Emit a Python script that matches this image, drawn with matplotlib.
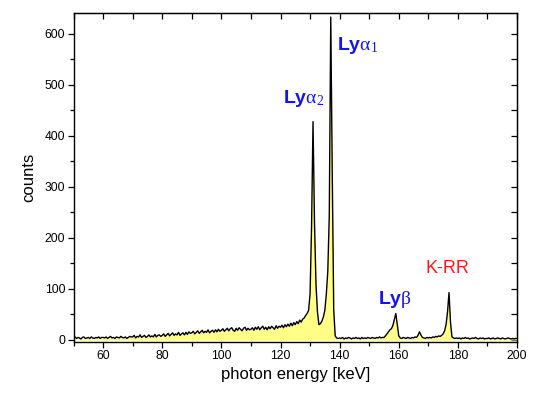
import numpy as np
import matplotlib
matplotlib.use("Agg")
import matplotlib.pyplot as plt
from matplotlib.ticker import MultipleLocator

plt.rcParams['font.family'] = ['Liberation Sans', 'DejaVu Sans']
plt.rcParams['mathtext.fontset'] = 'custom'
plt.rcParams['mathtext.rm'] = 'Liberation Serif'
plt.rcParams['mathtext.bf'] = 'Liberation Sans:bold'
plt.rcParams['mathtext.it'] = 'Liberation Serif:italic'

# spectrum, 0.5 keV channels from 50 to 200 keV
energy_start = 50.0
energy_step = 0.5
counts = [
    4, 6, 3, 5, 4, 2, 5, 6, 3, 4, 5, 3, 6, 4, 3, 5, 4, 6, 3, 5,            # 50
    5, 4, 6, 3, 5, 7, 4, 5, 3, 6, 5, 4, 7, 5, 4, 6, 3, 5, 7, 6,            # 60
    6, 9, 4, 7, 6, 10, 5, 7, 9, 5, 7, 10, 6, 8, 6, 11, 6, 9, 10, 7,        # 70
    9, 12, 7, 10, 13, 8, 11, 14, 9, 12, 10, 15, 9, 12, 14, 10, 15, 11, 16, 13,  # 80
    14, 17, 12, 15, 18, 13, 16, 19, 14, 17, 15, 20, 14, 17, 19, 15, 20, 16, 21, 17,  # 90
    19, 22, 17, 20, 23, 18, 22, 24, 19, 17, 23, 19, 24, 21, 18, 23, 25, 19, 23, 20,  # 100
    21, 24, 19, 25, 21, 26, 20, 24, 27, 21, 25, 20, 26, 22, 27, 24, 21, 28, 23, 27,  # 110
    25, 29, 24, 30, 26, 31, 27, 33, 28, 34, 30, 36, 32, 39, 35, 41, 43, 48, 52, 58,  # 120
    90, 220, 428, 230, 110, 55, 30, 32, 37, 45, 58, 90, 135, 245, 633, 330, 60, 8, 4, 3,  # 130
    4, 3, 5, 2, 4, 3, 5, 4, 2, 4, 3, 5, 3, 4, 2, 5, 3, 4, 3, 5,            # 140
    4, 3, 5, 4, 3, 5, 4, 6, 4, 5, 5, 8, 12, 16, 20, 22, 28, 40, 52, 30,    # 150
    8, 4, 3, 5, 4, 3, 5, 4, 3, 5, 4, 6, 5, 9, 16, 10, 5, 4, 3, 5,          # 160
    4, 5, 4, 6, 5, 7, 6, 8, 7, 9, 12, 18, 30, 55, 93, 35, 6, 4, 3, 4,      # 170
    3, 4, 2, 4, 3, 5, 3, 4, 2, 3, 4, 3, 5, 3, 2, 4, 3, 4, 2, 3,            # 180
    3, 4, 2, 3, 4, 2, 3, 4, 3, 2, 4, 3, 2, 3, 4, 3, 2, 3, 2, 3, 3,         # 190-200
]
energy = energy_start + energy_step * np.arange(len(counts))

# peak labels
labels = [r'$\mathbf{Ly}\mathrm{\alpha}_{\mathrm{1}}$', r'$\mathbf{Ly}\mathrm{\alpha}_{\mathrm{2}}$',
          r'$\mathbf{Ly}\mathrm{\beta}$', 'K-RR']
label_x = [139.0, 120.8, 152.9, 169.1]
label_y = [578, 474, 80, 141]
label_colors = ['#1414f0', '#1414f0', '#1414f0', '#ff1a1a']

fig = plt.figure(figsize=(5.33, 3.93), dpi=100)
ax = fig.add_axes([0.138, 0.131, 0.832, 0.836])

ax.fill_between(energy, counts, 0, color='#ffff85', lw=0)
ax.plot(energy, counts, color='black', lw=1.0)

for t, x, y, c in zip(labels, label_x, label_y, label_colors):
    ax.text(x, y, t, color=c, fontsize=14 if t != 'K-RR' else 13, va='center', ha='left')

ax.set_xlim(50, 200)
ax.set_ylim(-3, 641)
ax.xaxis.set_major_locator(MultipleLocator(20))
ax.xaxis.set_minor_locator(MultipleLocator(10))
ax.yaxis.set_major_locator(MultipleLocator(100))
ax.yaxis.set_minor_locator(MultipleLocator(50))
ax.tick_params(which='major', direction='out', length=4, width=0.9, labelsize=8.7, pad=2)
ax.tick_params(which='minor', direction='out', length=3, width=0.9)

top = ax.secondary_xaxis('top')
top.xaxis.set_major_locator(MultipleLocator(10))
top.tick_params(direction='in', length=4, width=0.9, labeltop=False)
right = ax.secondary_yaxis('right')
right.yaxis.set_major_locator(MultipleLocator(50))
right.tick_params(direction='in', length=4, width=0.9, labelright=False)

for s in ax.spines.values():
    s.set_linewidth(1.0)

ax.set_xlabel('photon energy [keV]', fontsize=12, labelpad=4)
ax.set_ylabel('counts', fontsize=12, labelpad=6)

fig.savefig('out.png', dpi=100)
